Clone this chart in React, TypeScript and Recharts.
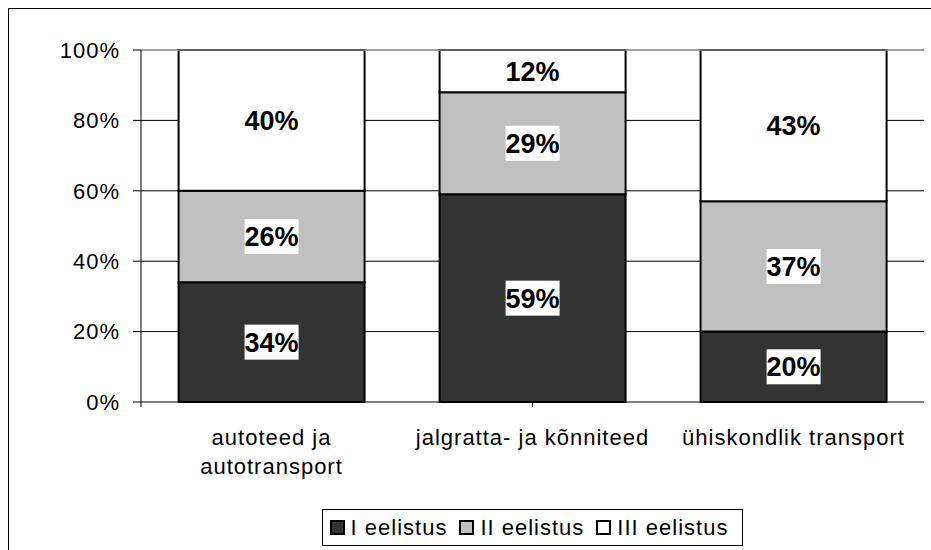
import React from "react";
import {
  BarChart,
  Bar,
  XAxis,
  YAxis,
  CartesianGrid,
  Legend,
  LabelList,
  ReferenceLine,
} from "recharts";

const categories = [
  "autoteed ja\nautotransport",
  "jalgratta- ja kõnniteed",
  "ühiskondlik transport",
];
const firstPref = [34, 59, 20];
const secondPref = [26, 29, 37];
const thirdPref = [40, 12, 43];
const seriesNames = ["I eelistus", "II eelistus", "III eelistus"];
const seriesColors = ["#333333", "#C0C0C0", "#FFFFFF"];
const yTicks = [0, 20, 40, 60, 80, 100];
const gridValues = [20, 40, 60, 80];
const boundaryTicks = [0, 1, 2, 3];

const data = categories.map((name, i) => ({
  name,
  s1: firstPref[i],
  s2: secondPref[i],
  s3: thirdPref[i],
}));

const FONT = "Arial, 'Liberation Sans', sans-serif";

const CatTick = (props: any) => {
  const { x, y, payload } = props;
  const lines = String(payload.value).split("\n");
  return (
    <text
      x={x}
      y={y}
      textAnchor="middle"
      fontFamily={FONT}
      fontSize={22}
      letterSpacing={1}
      fill="#000"
    >
      {lines.map((l, i) => (
        <tspan key={i} x={x} dy={i === 0 ? 38 : 29}>
          {l}
        </tspan>
      ))}
    </text>
  );
};

const EmptyTick = () => <g />;

const BarLabel = (props: any) => {
  const { x, y, width, height, value } = props;
  const cx = Number(x) + Number(width) / 2;
  const cy = Number(y) + Number(height) / 2;
  const txt = `${value}%`;
  const w = (txt.length - 1) * 14.5 + 25;
  return (
    <g>
      <rect x={cx - w / 2} y={cy - 17.5} width={w} height={35} fill="#fff" />
      <text
        x={cx}
        y={cy + 9.5}
        textAnchor="middle"
        fontFamily={FONT}
        fontWeight="bold"
        fontSize={27}
        fill="#000"
      >
        {txt}
      </text>
    </g>
  );
};

const LegendContent = () => (
  <div style={{ display: "flex", justifyContent: "center" }}>
    <div
      style={{
        display: "flex",
        alignItems: "center",
        boxSizing: "border-box",
        height: 37,
        border: "1px solid #000",
        padding: "0 14px 0 7px",
        fontFamily: FONT,
        fontSize: 22,
        letterSpacing: 1,
        color: "#000",
        background: "#fff",
      }}
    >
      {seriesNames.map((n, i) => (
        <div
          key={n}
          style={{
            display: "flex",
            alignItems: "center",
            marginLeft: i === 0 ? 0 : 12,
          }}
        >
          <span
            style={{
              display: "inline-block",
              width: 11,
              height: 11,
              border: "2px solid #000",
              background: seriesColors[i],
              marginRight: 6,
            }}
          />
          <span>{n}</span>
        </div>
      ))}
    </div>
  </div>
);

export default function App() {
  return (
    <div
      style={{
        position: "fixed",
        left: 8,
        top: 8,
        width: 1000,
        height: 1000,
        border: "1px solid #000",
        background: "#fff",
        overflow: "hidden",
      }}
    >
      <BarChart
        width={931}
        height={542}
        data={data}
        margin={{ top: 41, right: 16, bottom: 5, left: 0 }}
        barCategoryGap="14.4%"
      >
        <CartesianGrid
          xAxisId="cat"
          vertical={false}
          stroke="#000"
          horizontalValues={gridValues}
        />
        <XAxis
          xAxisId="b"
          type="number"
          domain={[0, 3]}
          ticks={boundaryTicks}
          tick={EmptyTick}
          tickSize={5}
          tickLine={{ stroke: "#000" }}
          axisLine={{ stroke: "#000" }}
          height={5}
          allowDataOverflow
        />
        <XAxis
          xAxisId="cat"
          dataKey="name"
          tick={CatTick}
          tickLine={false}
          axisLine={false}
          tickSize={0}
          tickMargin={0}
          height={102}
          interval={0}
        />
        <YAxis
          domain={[0, 100]}
          ticks={yTicks}
          width={132}
          tickSize={8}
          tickMargin={13}
          tickFormatter={(v: number) => `${v}%`}
          tickLine={{ stroke: "#000" }}
          axisLine={{ stroke: "#000" }}
          tick={{ fontFamily: FONT, fontSize: 22, fill: "#000", letterSpacing: 1 }}
        />
        <ReferenceLine y={100} xAxisId="cat" stroke="#808080" strokeWidth={1.5} />
        <ReferenceLine x={3} xAxisId="b" stroke="#808080" strokeWidth={1.5} />
        <Bar
          dataKey="s1"
          name={seriesNames[0]}
          stackId="a"
          xAxisId="cat"
          fill={seriesColors[0]}
          stroke="#000"
          strokeWidth={2}
          isAnimationActive={false}
        >
          <LabelList dataKey="s1" content={BarLabel} />
        </Bar>
        <Bar
          dataKey="s2"
          name={seriesNames[1]}
          stackId="a"
          xAxisId="cat"
          fill={seriesColors[1]}
          stroke="#000"
          strokeWidth={2}
          isAnimationActive={false}
        >
          <LabelList dataKey="s2" content={BarLabel} />
        </Bar>
        <Bar
          dataKey="s3"
          name={seriesNames[2]}
          stackId="a"
          xAxisId="cat"
          fill={seriesColors[2]}
          stroke="#000"
          strokeWidth={2}
          isAnimationActive={false}
        >
          <LabelList dataKey="s3" content={BarLabel} />
        </Bar>
        <Legend
          verticalAlign="bottom"
          content={LegendContent}
          wrapperStyle={{ left: 132, width: 783, bottom: 5 }}
        />
      </BarChart>
    </div>
  );
}
